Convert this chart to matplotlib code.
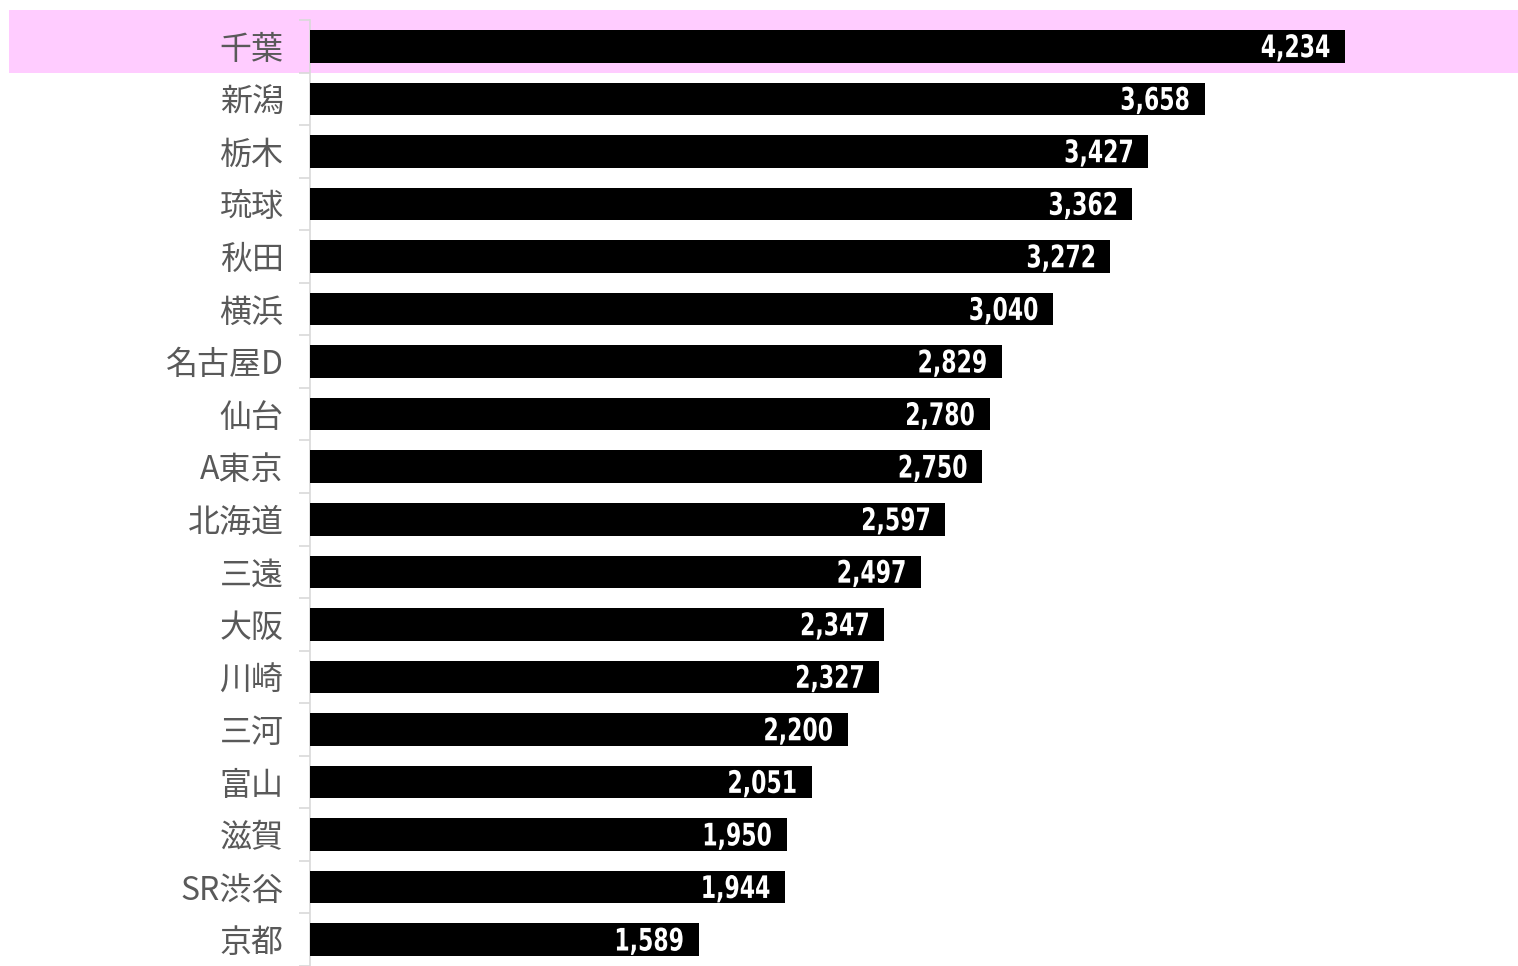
import numpy as np
import matplotlib.pyplot as plt
from matplotlib.textpath import TextPath
from matplotlib.patches import PathPatch
from matplotlib.font_manager import FontProperties
from matplotlib.transforms import Affine2D

# branch names and scores, top to bottom
branches = ["千葉", "新潟", "栃木", "琉球", "秋田", "横浜", "名古屋D", "仙台", "A東京",
            "北海道", "三遠", "大阪", "川崎", "三河", "富山", "滋賀", "SR渋谷", "京都"]
scores = [4234, 3658, 3427, 3362, 3272, 3040, 2829, 2780, 2750,
          2597, 2497, 2347, 2327, 2200, 2051, 1950, 1944, 1589]

plt.rcParams['font.family'] = ['Noto Sans CJK JP', 'DejaVu Sans']

fig = plt.figure(figsize=(15.18, 9.66), dpi=100)
ax = fig.add_axes([310 / 1518, 0, 1208 / 1518, 1 - 19.5 / 966])

y = np.arange(len(branches))
ax.barh(y, scores, height=0.62, color="black", zorder=3)

# highlight the top row
ax.axhspan(-0.7, 0.51, xmin=-0.249, xmax=1.0, color="#FFCCFF", clip_on=False, zorder=0, lw=0)

ax.set_xlim(0, 4940)
ax.set_ylim(17.35, -0.51)
ax.set_yticks(y)
ax.set_yticklabels(branches, fontsize=23, color="#595959")
ax.tick_params(axis="y", which="major", length=0, pad=19)
ax.set_yticks(np.arange(-0.5, len(branches), 1), minor=True)
ax.tick_params(axis="y", which="minor", length=8, color="#D9D9D9", width=1.2)
ax.set_xticks([])

for s in ["top", "right", "bottom"]:
    ax.spines[s].set_visible(False)
ax.spines["left"].set_color("#D9D9D9")
ax.spines["left"].set_linewidth(1.2)
ax.patch.set_alpha(0)

# condensed white value labels, squeezed horizontally
fp = FontProperties(family="DejaVu Sans", weight="bold")
em_y, em_x = 31, 22
for yi, v in zip(y, scores):
    tp = TextPath((0, 0), f"{v:,}", size=1, prop=fp)
    ext = tp.get_extents()
    px, py = ax.transData.transform((v, yi))
    tr = (Affine2D().translate(-ext.x1, -(ext.y0 + ext.y1) / 2)
          .scale(em_x, em_y).translate(px - 16, py - 1.5))
    ax.add_patch(PathPatch(tp, transform=tr, facecolor="white", edgecolor="none", zorder=4))

fig.savefig("out.png", dpi=100)
